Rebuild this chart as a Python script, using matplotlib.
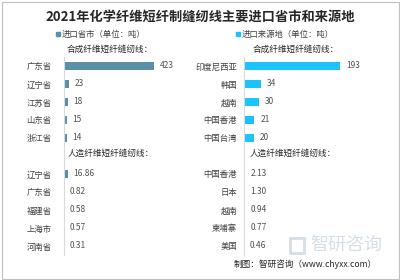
import matplotlib
matplotlib.use('Agg')
import matplotlib.pyplot as plt
from matplotlib.patches import Rectangle

plt.rcParams['font.family'] = ['Noto Sans CJK SC', 'DejaVu Sans']

title = '2021年化学纤维短纤制缝纫线主要进口省市和来源地'

# left panel: import provinces (tons)
left_syn_names = ['广东省', '辽宁省', '江苏省', '山东省', '浙江省']
left_syn_vals = [423, 23, 18, 15, 14]
left_art_names = ['辽宁省', '广东省', '福建省', '上海市', '河南省']
left_art_vals = [16.86, 0.82, 0.58, 0.57, 0.31]
left_art_labels = ['16.86', '0.82', '0.58', '0.57', '0.31']

# right panel: import origins (tons)
right_syn_names = ['印度尼西亚', '韩国', '越南', '中国香港', '中国台湾']
right_syn_vals = [193, 34, 30, 21, 20]
right_art_names = ['中国香港', '日本', '越南', '柬埔寨', '美国']
right_art_vals = [2.13, 1.30, 0.94, 0.77, 0.46]
right_art_labels = ['2.13', '1.30', '0.94', '0.77', '0.46']

W, H = 400, 280
fig = plt.figure(figsize=(4, 2.8), dpi=100)
fig.patch.set_facecolor('white')


def px_axes(x0, y0, w, h):
    # pixel box (top-left origin) -> figure axes
    return fig.add_axes([x0 / W, 1 - (y0 + h) / H, w / W, h / H])


def panel(ax, syn_names, syn_vals, art_names, art_vals, art_labels, color, xmax,
          sub_dx1, sub_dx2, pad):
    ypos_syn = [0, 1, 2, 3, 4]
    ypos_art = [6, 7, 8, 9, 10]
    ax.barh(ypos_syn, syn_vals, height=0.42, color=color)
    ax.barh(ypos_art, art_vals, height=0.42, color=color)
    ax.set_xlim(0, xmax)
    ax.set_ylim(10.5, -0.5)
    ax.set_yticks(ypos_syn + ypos_art)
    ax.set_yticklabels(syn_names + art_names, fontsize=6, color='#404040')
    ax.tick_params(axis='y', length=0, pad=pad)
    ax.set_xticks([])
    for s in ['top', 'right', 'bottom']:
        ax.spines[s].set_visible(False)
    ax.spines['left'].set_color('#d9d9d9')
    ax.spines['left'].set_linewidth(0.8)
    ax.set_facecolor('none')
    off = xmax * 0.045
    for y, v in zip(ypos_syn, syn_vals):
        ax.text(v + off, y, str(v), va='center', ha='left', fontsize=6, color='#505050')
    for y, v, lab in zip(ypos_art, art_vals, art_labels):
        ax.text(v + off, y, lab, va='center', ha='left', fontsize=6, color='#505050')
    ax.text(sub_dx1, -0.95, '合成纤维短纤缝纫线：', fontsize=6.2, color='#262626',
            va='center', ha='left', transform=ax.get_yaxis_transform())
    ax.text(sub_dx2, 4.85, '人造纤维短纤缝纫线：', fontsize=6.2, color='#262626',
            va='center', ha='left', transform=ax.get_yaxis_transform())


axL = px_axes(64, 57, 120, 198)
panel(axL, left_syn_names, left_syn_vals, left_art_names, left_art_vals,
      left_art_labels, '#5a8fa8', 423 * 120 / 90, 0.02, 0.03, 9)

axR = px_axes(244, 57, 130, 198)
panel(axR, right_syn_names, right_syn_vals, right_art_names, right_art_vals,
      right_art_labels, '#1cc3fa', 193 * 130 / 96, 0.07, 0.04, 5)

# title
fig.text(0.5, 1 - 17 / H, title, ha='center', va='center', fontsize=9.5,
         fontweight='bold', color='#262626')

# legend markers
fig.patches.append(Rectangle((56 / W, 1 - 36 / H), 4 / W, 4 / H, transform=fig.transFigure,
                             color='#5a8fa8'))
fig.text(62 / W, 1 - 34 / H, '进口省市（单位：吨）', fontsize=6, color='#404040',
         va='center', ha='left')
fig.patches.append(Rectangle((236 / W, 1 - 36 / H), 4 / W, 4 / H, transform=fig.transFigure,
                             color='#1cc3fa'))
fig.text(242 / W, 1 - 34 / H, '进口来源地（单位：吨）', fontsize=6, color='#404040',
         va='center', ha='left')

# watermark and footer
fig.patches.append(Rectangle((290 / W, 1 - 253 / H), 14 / W, 15 / H, transform=fig.transFigure,
                             fill=False, edgecolor='#d5dde6', linewidth=2))
fig.text(346 / W, 1 - 245 / H, '智研咨询', fontsize=13, color='#d5dde6',
         ha='center', va='center')
fig.text(305 / W, 1 - 264 / H, '制图：智研咨询（www.chyxx.com）', fontsize=6.2,
         color='#262626', ha='center', va='center')

# outer border
fig.patches.append(Rectangle((1.5 / W, 1.5 / H), 1 - 3 / W, 1 - 3 / H,
                             transform=fig.transFigure, fill=False,
                             edgecolor='#bfbfbf', linewidth=0.8))

fig.savefig('out.png', dpi=100)
